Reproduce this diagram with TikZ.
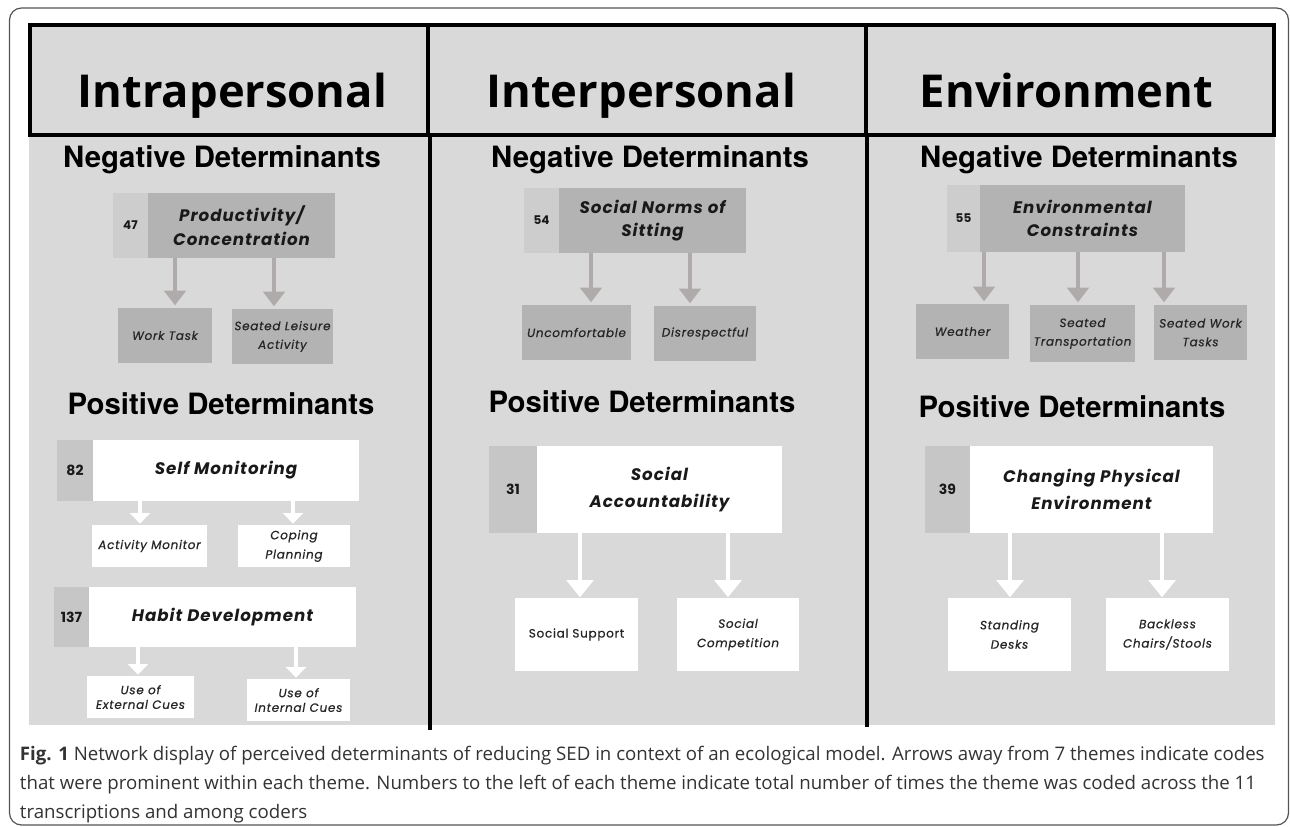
\documentclass[tikz,border=0pt]{standalone}
\usepackage{fontspec}
\setmainfont{Open Sans}
\newfontfamily\hdfont{Open Sans}
\newfontfamily\secfont{TeX Gyre Heros}
\newfontfamily\lblfont{Poppins}[LetterSpace=6]
\newfontfamily\chfont{Poppins}[LetterSpace=6, FakeBold=0.6]
\newfontfamily\numfont{Poppins}
\usetikzlibrary{arrows.meta}
\definecolor{bgc}{HTML}{D9D9D9}
\definecolor{dkc}{HTML}{B3B3B3}
\definecolor{numnegc}{HTML}{CDCDCD}
\definecolor{numposc}{HTML}{C6C6C6}
\definecolor{arrc}{HTML}{B0ABAB}
\definecolor{capc}{HTML}{333333}
\definecolor{framec}{HTML}{555555}
\newcommand\bx[7]{\node[#6, minimum width={(#4-#2)*0.75pt}, minimum height={(#5-#3)*0.75pt}] (#1) at ({(#2+#4)/2},{(#3+#5)/2}) {#7};}
\tikzset{
  every node/.style={inner sep=0pt, outer sep=0pt},
  hd/.style={font=\hdfont\bfseries\fontsize{34}{40}\selectfont, text=black, anchor=base east},
  sec/.style={font=\secfont\bfseries\fontsize{22}{26}\selectfont, text=black, anchor=base},
  numneg/.style={fill=numnegc, font=\numfont\bfseries\fontsize{9}{11}\selectfont, text=black!90},
  numpos/.style={fill=numposc, font=\numfont\bfseries\fontsize{10.5}{12}\selectfont, text=black!90},
  dkbox/.style={fill=dkc, align=center, text=black!90, font=\lblfont\bfseries\itshape\fontsize{12.5}{17.5}\selectfont},
  wbox/.style={fill=white, align=center, text=black!90, font=\lblfont\bfseries\itshape\fontsize{12.5}{20.5}\selectfont},
  dkchild/.style={fill=dkc, align=center, text=black!85, font=\chfont\itshape\fontsize{9}{14}\selectfont},
  wchild/.style={fill=white, align=center, text=black!85, font=\chfont\itshape\fontsize{9}{14.5}\selectfont},
  wchildup/.style={fill=white, align=center, text=black!85, font=\chfont\fontsize{9}{14}\selectfont},
  garrow/.style={draw=arrc, line width=3pt, -{Triangle[width=16pt,length=11pt]}, arrc, shorten >=2pt},
  warrow/.style={draw=white, line width=3.5pt, -{Triangle[width=15pt,length=8pt]}, white, shorten >=1pt},
  wbarrow/.style={draw=white, line width=3.5pt, -{Triangle[width=20pt,length=13pt]}, white, shorten >=0.5pt},
  capt/.style={font=\fontsize{14}{21.75}\selectfont, text=capc, align=left, anchor=base west},
  divider/.style={draw=black, line width=2.4pt},
}
\begin{document}
\begin{tikzpicture}[x=0.75pt,y=-0.75pt]
\useasboundingbox (0,0) rectangle (1290,827);
\fill[white] (0,0) rectangle (1290,827);
\draw[framec, line width=0.9pt, rounded corners=9pt] (9.5,8) rectangle (1288.5,825);
\fill[bgc] (29,25) rectangle (1275,725);
% header
\draw[divider] (30,25) rectangle (1274,135);
\draw[divider] (428,25) -- (428,135);
\draw[divider] (866,25) -- (866,135);
\draw[divider] (430,135) -- (430,730);
\draw[divider, line width=2.8pt] (867,135) -- (867,727);
\node[hd] (h1) at (387,108) {Intrapersonal};
\node[hd] (h2) at (796,108) {Interpersonal};
\node[hd] (h3) at (1213,108) {Environment};
% section headings
\node[sec] (neg1) at (222,168) {Negative Determinants};
\node[sec] (neg2) at (650,168) {Negative Determinants};
\node[sec] (neg3) at (1079,168) {Negative Determinants};
\node[sec] (pos1) at (221,415) {Positive Determinants};
\node[sec] (pos2) at (642,413) {Positive Determinants};
\node[sec] (pos3) at (1072,418) {Positive Determinants};
% column 1 negative
\bx{n47}{113}{193}{148}{258}{numneg}{47}
\bx{t1}{148}{193}{335}{258}{dkbox}{Productivity/\\Concentration}
\bx{c11}{118}{308}{212}{363}{dkchild}{Work Task}
\bx{c12}{232}{309}{333}{364}{dkchild}{Seated Leisure\\Activity}
\draw[garrow] (t1.south -| 175,0) -- (c11.north -| 175,0);
\draw[garrow] (t1.south -| 274,0) -- (c12.north -| 274,0);
% column 1 positive
\bx{n82}{57}{440}{93}{501}{numpos}{82}
\bx{t2}{93}{440}{359}{501}{wbox}{Self Monitoring}
\bx{c21}{92}{525}{207}{567}{wchild}{Activity Monitor}
\bx{c22}{238}{525}{350}{567}{wchild}{Coping\\Planning}
\draw[warrow] (t2.south -| 140,0) -- (c21.north -| 140,0);
\draw[warrow] (t2.south -| 293,0) -- (c22.north -| 293,0);
\bx{n137}{54}{587}{89}{647}{numpos}{137}
\bx{t3}{89}{587}{356}{647}{wbox}{Habit Development}
\bx{c31}{87}{676}{194}{718}{wchild}{Use of\\[-3.5pt]External Cues}
\bx{c32}{247}{679}{350}{721}{wchild}{Use of\\[-3.5pt]Internal Cues}
\draw[warrow] (t3.south -| 138,0) -- (c31.north -| 138,0);
\draw[warrow] (t3.south -| 296,0) -- (c32.north -| 296,0);
% column 2 negative
\bx{n54}{524}{188}{559}{253}{numneg}{54}
\bx{t4}{559}{188}{746}{253}{dkbox}{Social Norms of\\Sitting}
\bx{c41}{522}{305}{631}{360}{dkchild}{Uncomfortable}
\bx{c42}{654}{306}{756}{361}{dkchild}{Disrespectful}
\draw[garrow] (t4.south -| 591,0) -- (c41.north -| 591,0);
\draw[garrow] (t4.south -| 690,0) -- (c42.north -| 690,0);
% column 2 positive
\bx{n31}{489}{446}{537}{533}{numpos}{31}
\bx{t5}{537}{446}{782}{533}{wbox}{Social\\Accountability}
\bx{c51}{515}{598}{638}{671}{wchildup}{Social Support}
\bx{c52}{677}{598}{799}{671}{wchild}{Social\\Competition}
\draw[wbarrow] (t5.south -| 580,0) -- (c51.north -| 580,0);
\draw[wbarrow] (t5.south -| 728,0) -- (c52.north -| 728,0);
% column 3 negative
\bx{n55}{947}{185}{980}{252}{numneg}{55}
\bx{t6}{980}{185}{1185}{252}{dkbox}{Environmental\\Constraints}
\bx{c61}{916}{304}{1009}{359}{dkchild}{Weather}
\bx{c62}{1030}{305}{1135}{362}{dkchild}{Seated\\Transportation}
\bx{c63}{1154}{305}{1247}{360}{dkchild}{Seated Work\\Tasks}
\draw[garrow] (t6.south -| 984,0) -- (c61.north -| 984,0);
\draw[garrow] (t6.south -| 1078,0) -- (c62.north -| 1078,0);
\draw[garrow] (t6.south -| 1164,0) -- (c63.north -| 1164,0);
% column 3 positive
\bx{n39}{925}{446}{970}{533}{numpos}{39}
\bx{t7}{970}{446}{1213}{533}{wbox}{Changing Physical\\Environment}
\bx{c71}{948}{598}{1071}{671}{wchild}{Standing\\Desks}
\bx{c72}{1106}{598}{1229}{671}{wchild}{Backless\\Chairs/Stools}
\draw[wbarrow] (t7.south -| 1010,0) -- (c71.north -| 1010,0);
\draw[wbarrow] (t7.south -| 1162,0) -- (c72.north -| 1162,0);
% caption (base anchor = last line)
\node[capt] (cap) at (20,818) {\textbf{Fig. 1} Network display of perceived determinants of reducing SED in context of an ecological model. Arrows away from 7 themes indicate codes\\that were prominent within each theme. Numbers to the left of each theme indicate total number of times the theme was coded across the 11\\transcriptions and among coders};
\end{tikzpicture}
\end{document}
